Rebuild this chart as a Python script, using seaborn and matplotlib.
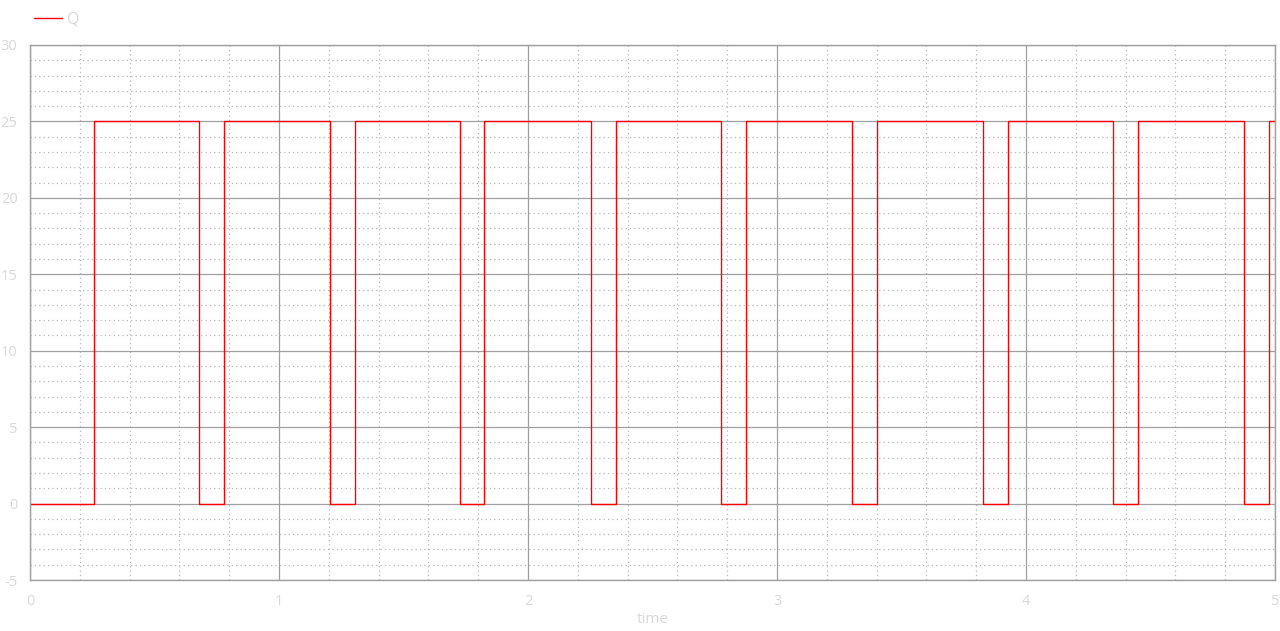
import matplotlib
matplotlib.use('Agg')
import matplotlib.pyplot as plt
from matplotlib.ticker import MultipleLocator
import pandas as pd
import seaborn as sns

# Switching instants of Q (s) and the level held from each instant on
edge_times = [0.0, 0.256, 0.679, 0.779, 1.204, 1.304, 1.726, 1.825,
              2.252, 2.352, 2.774, 2.874, 3.300, 3.400, 3.826, 3.926,
              4.349, 4.450, 4.875, 4.976, 5.0]
q_values = [0, 25, 0, 25, 0, 25, 0, 25,
            0, 25, 0, 25, 0, 25, 0, 25,
            0, 25, 0, 25, 25]

df = pd.DataFrame({'time': edge_times, 'Q': q_values})

sns.set_style('white')
plt.rcParams['font.family'] = ['Open Sans', 'DejaVu Sans']
plt.rcParams['axes.unicode_minus'] = False

label_color = '#d9d9d9'
frame_color = '#a0a0a0'

fig = plt.figure(figsize=(12.8, 6.31), dpi=100)
ax = fig.add_axes([30 / 1280, 1 - 580 / 631, 1245 / 1280, 535 / 631])

sns.lineplot(data=df, x='time', y='Q', ax=ax, color='red', linewidth=1.0,
             drawstyle='steps-post', estimator=None, label='Q')

ax.set_xlim(0, 5)
ax.set_ylim(-5, 30)
ax.xaxis.set_major_locator(MultipleLocator(1))
ax.xaxis.set_minor_locator(MultipleLocator(0.2))
ax.yaxis.set_major_locator(MultipleLocator(5))
ax.yaxis.set_minor_locator(MultipleLocator(1))

ax.grid(which='major', color=frame_color, linewidth=0.9, linestyle='-')
ax.grid(which='minor', color='#b8b8b8', linewidth=0.9, linestyle=(0, (1, 2.5)))
ax.set_axisbelow(True)

for s in ax.spines.values():
    s.set_color(frame_color)
    s.set_linewidth(1.0)

ax.tick_params(which='major', direction='out', length=6, width=0.8,
               color='#c8c8c8', labelcolor=label_color, labelsize=10.5, pad=4)
ax.tick_params(which='minor', direction='out', length=3, width=0.8,
               color='#c8c8c8')
ax.tick_params(axis='y', pad=3)

ax.set_xlabel('time', color=label_color, fontsize=11, labelpad=2)
ax.set_ylabel('')

ax.get_legend().remove()
fig.legend(loc='upper left', bbox_to_anchor=(0.015, 1.005), frameon=False,
           fontsize=11.5, labelcolor=label_color, handlelength=1.8,
           handletextpad=0.3)

plt.savefig('out.png', dpi=100)
plt.close(fig)
